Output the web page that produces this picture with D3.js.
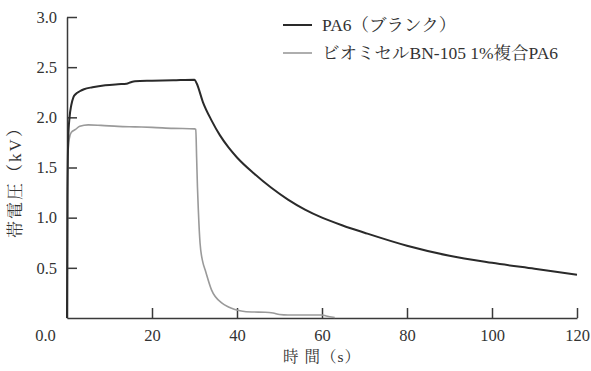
<!DOCTYPE html>
<html>
<head>
<meta charset="utf-8">
<script src="https://cdn.jsdelivr.net/npm/d3@7"></script>
<style>
  html, body { margin: 0; padding: 0; background: #fff; }
  svg text { font-family: "Liberation Serif", "Noto Serif CJK JP", "Noto Sans CJK JP", serif; fill: #333; }
</style>
</head>
<body>
<svg id="chart" width="591" height="371"></svg>
<script>
// Charged voltage (kV) against time (s)
const seriesNames = ["PA6（ブランク）", "ビオミセルBN-105 1%複合PA6"];

const blankTime = [0, 0.1, 0.3, 0.6, 1, 1.5, 2, 3, 4, 6, 9, 12, 14, 15, 16, 20, 25, 30, 30.5,
  32, 34, 36, 38, 40, 44, 48, 52, 56, 60, 65, 70, 80, 90, 100, 110, 120];
const blankVolt = [0, 1.2, 1.8, 2.0, 2.12, 2.2, 2.23, 2.26, 2.28, 2.3, 2.32, 2.33, 2.335, 2.35, 2.36, 2.365, 2.37, 2.375, 2.34,
  2.15, 1.97, 1.82, 1.7, 1.6, 1.44, 1.3, 1.18, 1.08, 1.0, 0.92, 0.85, 0.72, 0.62, 0.55, 0.49, 0.43];

const compTime = [0, 0.2, 0.5, 1, 2, 3, 5, 8, 12, 16, 20, 25, 30, 30.3, 30.5, 30.7, 30.9, 31.3, 32, 32.5,
  34, 36.4, 38, 39.5, 41, 43.5, 46.6, 48.5, 50, 52, 60, 61, 63];
const compVolt = [0, 1.6, 1.78, 1.85, 1.88, 1.91, 1.925, 1.92, 1.91, 1.905, 1.9, 1.89, 1.885, 1.88, 1.6, 1.3, 1.08, 0.75, 0.55, 0.48,
  0.28, 0.15, 0.11, 0.085, 0.07, 0.06, 0.058, 0.05, 0.035, 0.03, 0.03, 0.02, 0.005];

const xTicks = [0, 20, 40, 60, 80, 100, 120];
const yTicks = [0.5, 1.0, 1.5, 2.0, 2.5, 3.0];

const svg = d3.select("#chart");
const x = d3.scaleLinear().domain([0, 120]).range([67, 577]);
const y = d3.scaleLinear().domain([0, 3]).range([318, 17]);

const axisColor = "#3a3a3a";

// y axis, ticks pointing into the plot
const gy = svg.append("g").attr("transform", `translate(${x(0)},0)`)
  .call(d3.axisLeft(y).tickValues(yTicks).tickFormat(d3.format(".1f"))
    .tickSize(-10).tickSizeOuter(0).tickPadding(10));

// x axis, ticks pointing up; the origin carries the "0.0" label
const gx = svg.append("g").attr("transform", `translate(0,${y(0)})`)
  .call(d3.axisBottom(x).tickValues(xTicks)
    .tickFormat(d => d === 0 ? "0.0" : d3.format("d")(d))
    .tickSize(-10).tickSizeOuter(0).tickPadding(11));

[gx, gy].forEach(g => {
  g.select(".domain").attr("stroke", axisColor).attr("stroke-width", 1.5);
  g.selectAll(".tick line").attr("stroke", axisColor).attr("stroke-width", 1.5);
  g.selectAll(".tick text").attr("font-size", 16.5).attr("fill", "#333")
    .attr("font-family", "Liberation Serif, serif");
});
gx.selectAll(".tick").filter(d => d === 0).select("line").remove();
gx.selectAll(".tick").filter(d => d === 0).select("text").attr("dx", -22);

// curves
const line = d3.line().x(d => x(d[0])).y(d => y(d[1])).curve(d3.curveMonotoneX);
const blank = blankTime.map((t, i) => [t, blankVolt[i]]);
const comp = compTime.map((t, i) => [t, compVolt[i]]);

svg.append("path").datum(comp).attr("d", line)
  .attr("fill", "none").attr("stroke", "#9a9a9a").attr("stroke-width", 1.6);
svg.append("path").datum(blank).attr("d", line)
  .attr("fill", "none").attr("stroke", "#2a2a2a").attr("stroke-width", 2);

// legend
const legend = [
  { name: seriesNames[0], color: "#2a2a2a", w: 2, yy: 25 },
  { name: seriesNames[1], color: "#9a9a9a", w: 1.6, yy: 53 }
];
legend.forEach(l => {
  svg.append("line").attr("x1", 283).attr("x2", 312).attr("y1", l.yy).attr("y2", l.yy)
    .attr("stroke", l.color).attr("stroke-width", l.w);
  svg.append("text").attr("x", 322).attr("y", l.yy + 6).attr("font-size", 17.5).text(l.name);
});

// axis titles
svg.append("text").attr("x", 322).attr("y", 362).attr("text-anchor", "middle")
  .attr("font-size", 15.5).attr("letter-spacing", 1).text("時 間（s）");
svg.append("text").attr("transform", "translate(21,178) rotate(-90)")
  .attr("text-anchor", "middle").attr("font-size", 17).attr("letter-spacing", 2).text("帯電圧（kV）");
</script>
</body>
</html>
